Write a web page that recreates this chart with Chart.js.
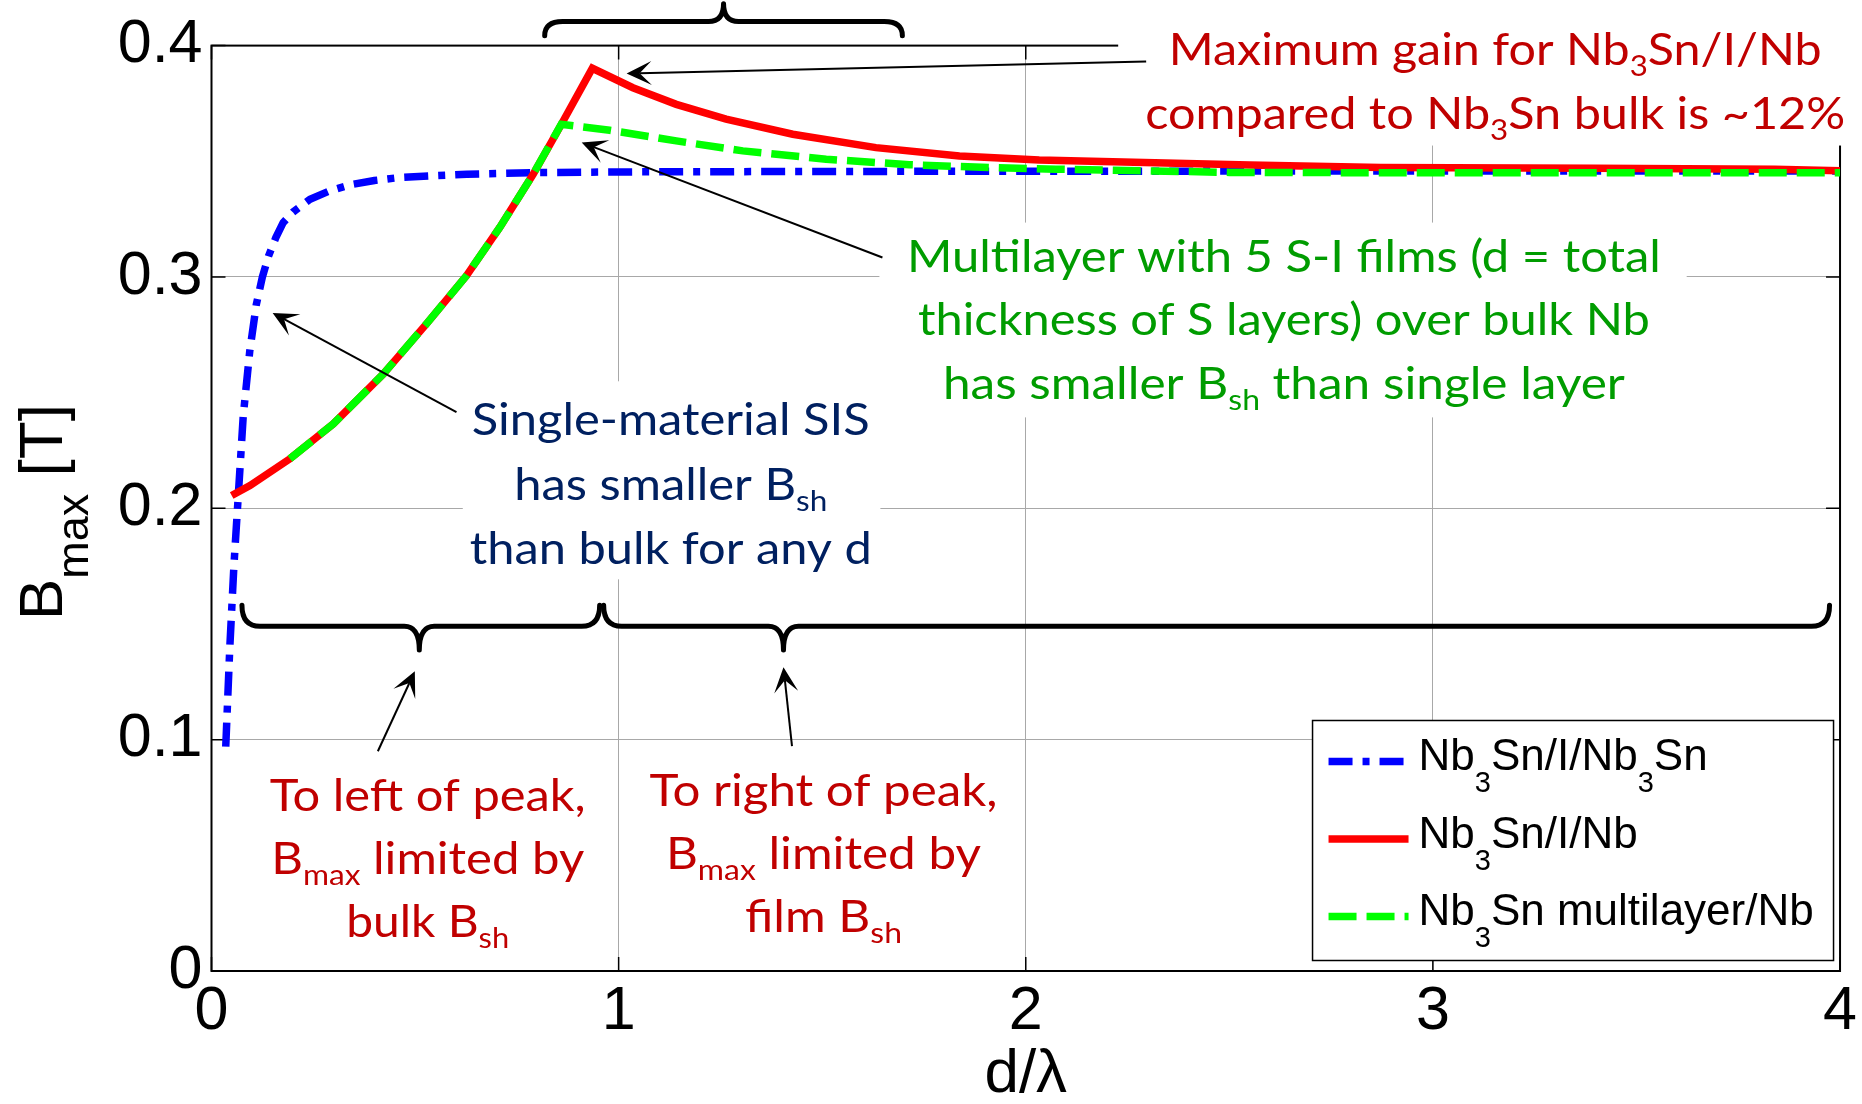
<!DOCTYPE html>
<html>
<head>
<meta charset="utf-8">
<title>Bmax vs d/lambda</title>
<script src="https://cdn.jsdelivr.net/npm/chart.js@4.4.1/dist/chart.umd.min.js"></script>
<style>
  html, body { margin: 0; padding: 0; background: #fff; }
  #wrap { width: 1862px; height: 1104px; }
</style>
</head>
<body>
<div id="wrap"><canvas id="bmax-chart" width="1862" height="1104"></canvas></div>
<script>
// Bmax [T] against d/lambda for the three structures
const sisX = [0.035, 0.045, 0.055, 0.064, 0.078, 0.094, 0.110, 0.125, 0.140, 0.158, 0.176, 0.200, 0.242,
  0.290, 0.340, 0.400, 0.463, 0.550, 0.627, 0.790, 1.0, 1.5, 2.0, 3.0, 4.0];
const sisB = [0.097, 0.140, 0.175, 0.2005, 0.240, 0.268, 0.288, 0.300, 0.309, 0.317, 0.3235, 0.328, 0.3336,
  0.3372, 0.3398, 0.3417, 0.343, 0.3438, 0.3444, 0.3451, 0.3454, 0.3456, 0.3457, 0.3458, 0.3458];

const nbX = [0.0496, 0.0945, 0.1926, 0.299, 0.4216, 0.528, 0.626, 0.708, 0.790, 0.855, 0.9354, 1.035,
  1.1416, 1.264, 1.4277, 1.632, 1.837, 2.033, 2.55, 2.872, 3.40, 3.84, 4.0];
const nbB = [0.2055, 0.2098, 0.2214, 0.2365, 0.258, 0.2797, 0.3005, 0.3214, 0.3444, 0.3646, 0.3902, 0.3818,
  0.3746, 0.3682, 0.3617, 0.3559, 0.3523, 0.3505, 0.3484, 0.3473, 0.3470, 0.3466, 0.3459];

const multiX = [0.1926, 0.299, 0.4216, 0.528, 0.626, 0.708, 0.790, 0.859, 0.978, 1.1416, 1.305, 1.5097,
  1.714, 1.918, 2.074, 2.5, 3.0, 3.5, 4.0];
const multiB = [0.2214, 0.2365, 0.258, 0.2797, 0.3005, 0.3214, 0.3444, 0.366, 0.3634, 0.3588, 0.3545, 0.3509,
  0.3485, 0.3473, 0.3466, 0.3452, 0.3450, 0.3450, 0.3450];

const xTicks = [0, 1, 2, 3, 4];
const yTicks = [0, 0.1, 0.2, 0.3, 0.4];

const legendLabels = [
  [['Nb'], ['3', 1], ['Sn/I/Nb'], ['3', 1], ['Sn']],
  [['Nb'], ['3', 1], ['Sn/I/Nb']],
  [['Nb'], ['3', 1], ['Sn multilayer/Nb']]
];

const MATLAB_FONT = '"Liberation Sans", Arial, sans-serif';
const NOTE_FONT = 'Lato, "Open Sans", sans-serif';
const RED = '#c00000', GREEN = '#009c00', NAVY = '#002060';

// callouts, in data units (x = d/lambda, y = T)
const notes = [
  { color: RED, cx: 3.153, lines: [
    { base: 0.3918, w: 653, parts: [['Maximum gain for Nb'], ['3', 1], ['Sn/I/Nb']] },
    { base: 0.3640, w: 700, parts: [['compared to Nb'], ['3', 1], ['Sn bulk is ~12%']] }
  ] },
  { color: GREEN, cx: 2.634, lines: [
    { base: 0.3021, w: 754, parts: [['Multilayer with 5 S-I films (d = total']] },
    { base: 0.2747, w: 732, parts: [['thickness of S layers) over bulk Nb']] },
    { base: 0.2471, w: 682, parts: [['has smaller B'], ['sh', 1], [' than single layer']] }
  ] },
  { color: NAVY, cx: 1.128, lines: [
    { base: 0.2315, w: 398, parts: [['Single-material SIS']] },
    { base: 0.2035, w: 313, parts: [['has smaller B'], ['sh', 1]] },
    { base: 0.1761, w: 402, parts: [['than bulk for any d']] }
  ] },
  { color: RED, cx: 0.531, lines: [
    { base: 0.0691, w: 316, parts: [['To left of peak,']] },
    { base: 0.0419, w: 313, parts: [['B'], ['max', 1], [' limited by']] },
    { base: 0.0147, w: 163, parts: [['bulk B'], ['sh', 1]] }
  ] },
  { color: RED, cx: 1.503, lines: [
    { base: 0.0713, w: 348, parts: [['To right of peak,']] },
    { base: 0.0441, w: 315, parts: [['B'], ['max', 1], [' limited by']] },
    { base: 0.0168, w: 157, parts: [['film B'], ['sh', 1]] }
  ] }
];

// white text-box backgrounds [x0, x1, yTop, yBottom]
const boxes = [[2.227, 4.06, 0.4194, 0.3568], [1.6405, 3.6233, 0.3235, 0.2393], [0.6172, 1.6429, 0.2549, 0.1693]];

// arrows [fromX, fromY, tipX, tipY]
const arrows = [
  [2.2957, 0.3931, 1.0196, 0.3879],
  [1.6479, 0.3084, 0.9092, 0.3581],
  [0.6017, 0.2416, 0.1502, 0.2844],
  [0.4086, 0.0950, 0.4994, 0.1296],
  [1.4258, 0.0972, 1.4049, 0.1313]
];

// braces [x0, x1, xCusp, yEnd, yBar, yTip]
const braces = [
  [0.8184, 1.6969, 1.2577, 0.4043, 0.4104, 0.4181],
  [0.0748, 0.9534, 0.5104, 0.1581, 0.1490, 0.1387],
  [0.9632, 3.9742, 1.4049, 0.1581, 0.1490, 0.1387]
];

const toPts = (xs, ys) => xs.map((x, i) => ({ x: x, y: ys[i] }));

function richText(ctx, parts, x, baseY, o) {
  const main = o.size + 'px ' + o.family;
  const sub = Math.round(o.size * o.subScale) + 'px ' + o.family;
  let w = 0;
  parts.forEach(p => { ctx.font = p[1] ? sub : main; w += ctx.measureText(p[0]).width; });
  const sx = o.width ? o.width / w : 1;
  const startX = o.align === 'left' ? x : x - (w * sx) / 2;
  ctx.save();
  ctx.translate(startX, baseY);
  ctx.scale(sx, 1);
  ctx.fillStyle = o.color;
  ctx.textAlign = 'left';
  ctx.textBaseline = 'alphabetic';
  let cur = 0;
  parts.forEach(p => {
    ctx.font = p[1] ? sub : main;
    ctx.fillText(p[0], cur, p[1] ? o.subDrop : 0);
    cur += ctx.measureText(p[0]).width;
  });
  ctx.restore();
}

function drawArrow(ctx, x0, y0, x1, y1) {
  const ang = Math.atan2(y1 - y0, x1 - x0);
  const len = 25, half = 12, notch = 13;
  ctx.beginPath();
  ctx.moveTo(x0, y0);
  ctx.lineTo(x1 - Math.cos(ang) * notch, y1 - Math.sin(ang) * notch);
  ctx.stroke();
  ctx.save();
  ctx.translate(x1, y1);
  ctx.rotate(ang);
  ctx.beginPath();
  ctx.moveTo(0, 0);
  ctx.lineTo(-len, -half);
  ctx.lineTo(-notch, 0);
  ctx.lineTo(-len, half);
  ctx.closePath();
  ctx.fill();
  ctx.restore();
}

function drawBrace(ctx, x0, x1, xc, yEnd, yBar, yTip) {
  const r = 18, rc = 15;
  ctx.beginPath();
  ctx.moveTo(x0, yEnd);
  ctx.quadraticCurveTo(x0, yBar, x0 + r, yBar);
  ctx.lineTo(xc - rc, yBar);
  ctx.quadraticCurveTo(xc, yBar, xc, yTip);
  ctx.quadraticCurveTo(xc, yBar, xc + rc, yBar);
  ctx.lineTo(x1 - r, yBar);
  ctx.quadraticCurveTo(x1, yBar, x1, yEnd);
  ctx.stroke();
}

// box frame with inward ticks, then the white callout backgrounds
const framePlugin = {
  id: 'frame',
  beforeDatasetsDraw(chart) {
    const ctx = chart.ctx;
    const { left, right, top, bottom } = chart.chartArea;
    const sx = chart.scales.x, sy = chart.scales.y;
    ctx.save();
    ctx.strokeStyle = '#000';
    ctx.lineWidth = 2;
    ctx.strokeRect(left, top, right - left, bottom - top);
    ctx.lineWidth = 1.5;
    ctx.beginPath();
    xTicks.forEach(v => {
      const p = sx.getPixelForValue(v);
      ctx.moveTo(p, bottom); ctx.lineTo(p, bottom - 14);
      ctx.moveTo(p, top); ctx.lineTo(p, top + 14);
    });
    yTicks.forEach(v => {
      const p = sy.getPixelForValue(v);
      ctx.moveTo(left, p); ctx.lineTo(left + 14, p);
      ctx.moveTo(right, p); ctx.lineTo(right - 14, p);
    });
    ctx.stroke();
    ctx.fillStyle = '#fff';
    boxes.forEach(b => {
      const x0 = sx.getPixelForValue(b[0]), x1 = sx.getPixelForValue(b[1]);
      const y0 = sy.getPixelForValue(b[2]), y1 = sy.getPixelForValue(b[3]);
      ctx.fillRect(x0, y0, x1 - x0, y1 - y0);
    });
    ctx.restore();
  }
};

const overlayPlugin = {
  id: 'overlay',
  afterDatasetsDraw(chart) {
    const ctx = chart.ctx;
    const sx = chart.scales.x, sy = chart.scales.y;
    const px = v => sx.getPixelForValue(v), py = v => sy.getPixelForValue(v);
    const area = chart.chartArea;
    ctx.save();

    // legend
    const lw = 521, lh = 240;
    const lx = area.right - 6.5 - lw, ly = area.bottom - 10.5 - lh;
    ctx.fillStyle = '#fff';
    ctx.fillRect(lx, ly, lw, lh);
    ctx.strokeStyle = '#000';
    ctx.lineWidth = 1.5;
    ctx.strokeRect(lx, ly, lw, lh);
    chart.data.datasets.forEach((ds, i) => {
      const cy = ly + 41 + i * 77.5;
      ctx.save();
      ctx.strokeStyle = ds.borderColor;
      ctx.lineWidth = ds.borderWidth;
      ctx.setLineDash(ds.borderDash || []);
      ctx.beginPath();
      ctx.moveTo(lx + 16, cy);
      ctx.lineTo(lx + 96, cy);
      ctx.stroke();
      ctx.restore();
      richText(ctx, legendLabels[i], lx + 106, ly + 49.6 + i * 77.5,
        { size: 44, family: MATLAB_FONT, subScale: 0.66, subDrop: 22, color: '#000', align: 'left' });
    });

    // braces and arrows
    ctx.strokeStyle = '#000';
    ctx.lineCap = 'round';
    ctx.lineJoin = 'round';
    ctx.lineWidth = 5;
    braces.forEach(b => drawBrace(ctx, px(b[0]), px(b[1]), px(b[2]), py(b[3]), py(b[4]), py(b[5])));
    ctx.lineWidth = 2;
    ctx.lineCap = 'butt';
    ctx.fillStyle = '#000';
    arrows.forEach(a => drawArrow(ctx, px(a[0]), py(a[1]), px(a[2]), py(a[3])));

    // callout text
    notes.forEach(n => {
      n.lines.forEach(l => {
        richText(ctx, l.parts, px(n.cx), py(l.base),
          { size: 45, family: NOTE_FONT, subScale: 0.64, subDrop: 11, color: n.color, width: l.w });
      });
    });

    // axis titles
    ctx.save();
    ctx.translate(62, 620);
    ctx.rotate(-Math.PI / 2);
    richText(ctx, [['B'], ['max', 1], [' [T]']], 0, 0,
      { size: 62, family: MATLAB_FONT, subScale: 0.72, subDrop: 26, color: '#000', align: 'left' });
    ctx.restore();
    ctx.font = '62px ' + MATLAB_FONT;
    ctx.fillStyle = '#000';
    ctx.textAlign = 'center';
    ctx.textBaseline = 'alphabetic';
    ctx.fillText('d/\u03bb', px(2), 1092);

    ctx.restore();
  }
};

const tickFont = { family: MATLAB_FONT, size: 61 };

new Chart(document.getElementById('bmax-chart'), {
  type: 'line',
  data: {
    datasets: [
      { label: 'Nb3Sn/I/Nb3Sn', data: toPts(sisX, sisB), borderColor: '#0000ff', borderWidth: 7.5,
        borderDash: [24, 10, 7, 10], order: 3 },
      { label: 'Nb3Sn/I/Nb', data: toPts(nbX, nbB), borderColor: '#ff0000', borderWidth: 7.5, order: 2 },
      { label: 'Nb3Sn multilayer/Nb', data: toPts(multiX, multiB), borderColor: '#00ff00', borderWidth: 7.5,
        borderDash: [28, 10], order: 1 }
    ]
  },
  options: {
    responsive: false,
    animation: false,
    devicePixelRatio: 1,
    layout: { padding: { top: 45, right: 20.5, bottom: 0, left: 0 } },
    elements: { point: { radius: 0 }, line: { tension: 0, fill: false } },
    plugins: { legend: { display: false }, tooltip: { enabled: false } },
    scales: {
      x: {
        type: 'linear', min: 0, max: 4,
        afterBuildTicks: s => { s.ticks = xTicks.map(v => ({ value: v })); },
        afterFit: s => { s.height = 133; },
        ticks: { font: tickFont, color: '#000', padding: 5, maxRotation: 0, autoSkip: false },
        grid: { color: '#a8a8a8', lineWidth: 1, drawTicks: false },
        border: { display: false }
      },
      y: {
        type: 'linear', min: 0, max: 0.4,
        afterBuildTicks: s => { s.ticks = yTicks.map(v => ({ value: v })); },
        afterFit: s => { s.width = 211.5; },
        ticks: { font: tickFont, color: '#000', padding: 9, callback: v => (v === 0 ? '0' : v.toFixed(1)) },
        grid: { color: '#a8a8a8', lineWidth: 1, drawTicks: false },
        border: { display: false }
      }
    }
  },
  plugins: [framePlugin, overlayPlugin]
});
</script>
</body>
</html>
